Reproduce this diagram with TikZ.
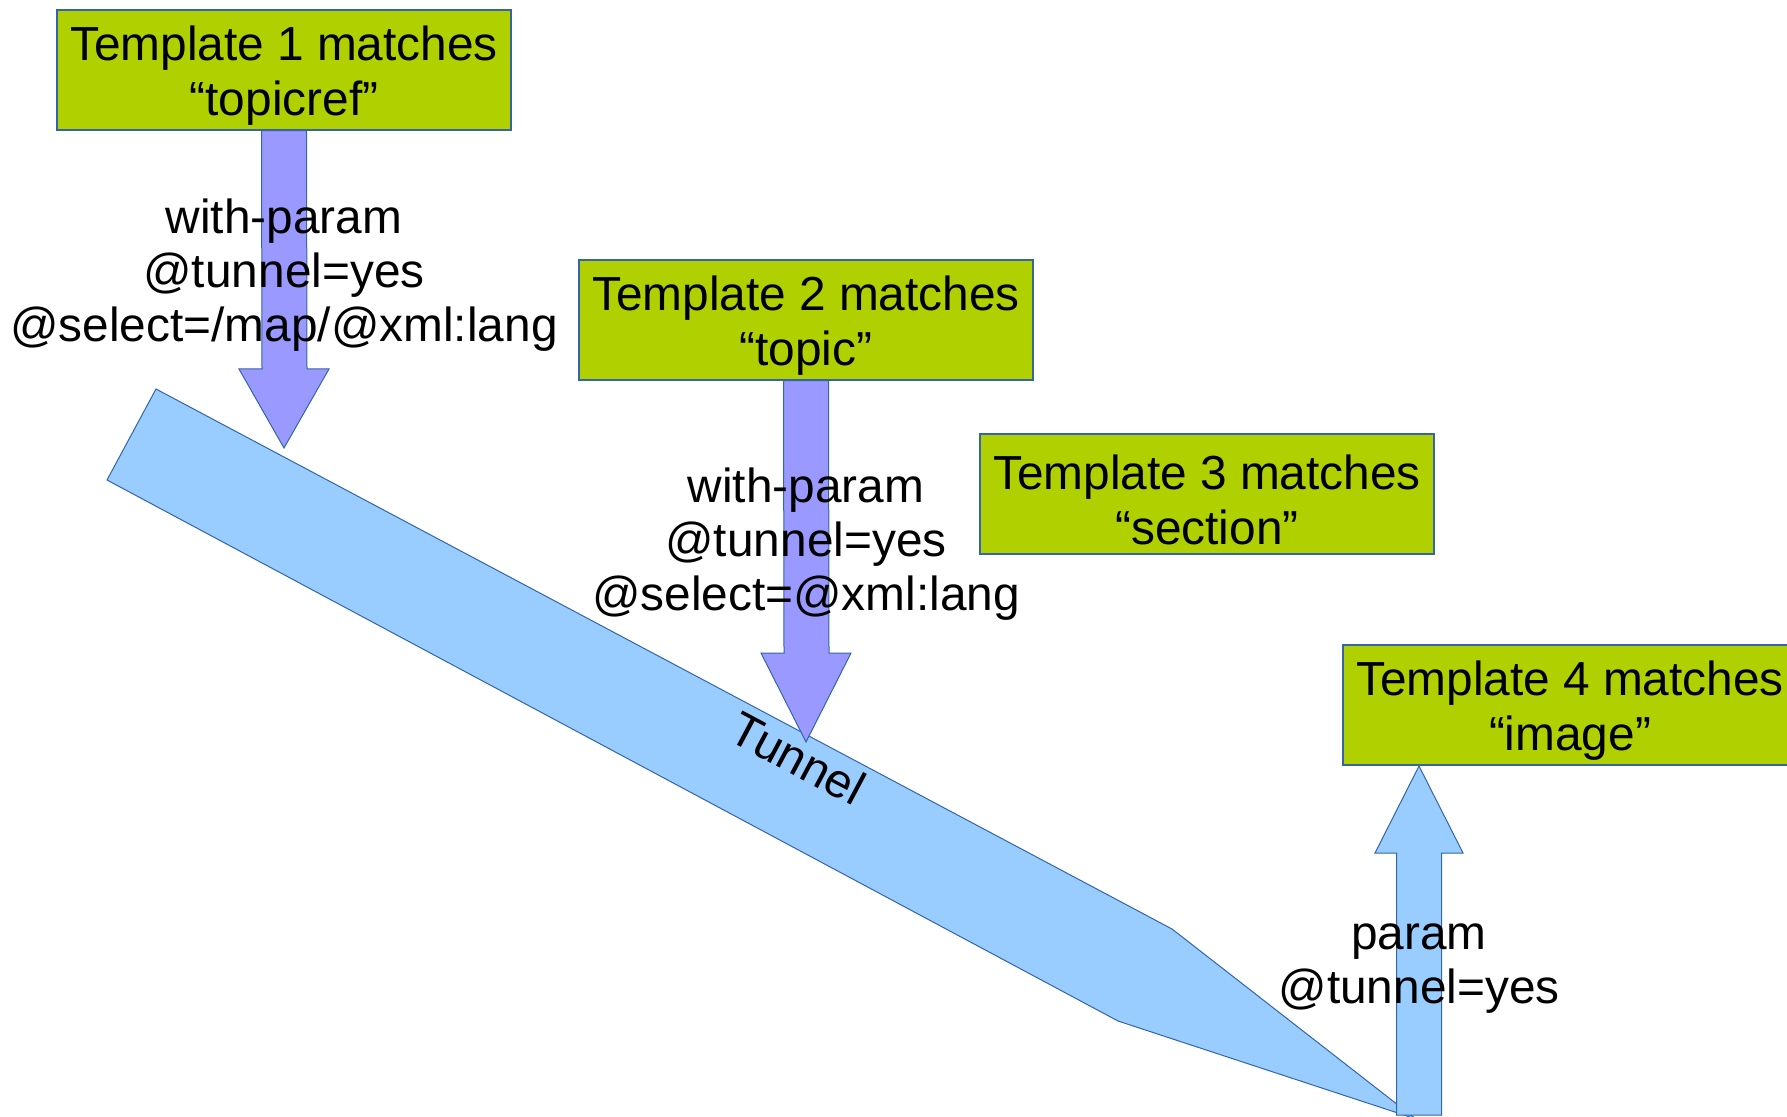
\documentclass[tikz,border=0pt]{standalone}
\usepackage{fontspec}
\setmainfont{Liberation Sans}
\usetikzlibrary{calc}
\definecolor{boxgreen}{HTML}{B0D000}
\definecolor{edgeblue}{HTML}{3465A4}
\definecolor{arrowpurple}{HTML}{9999FF}
\definecolor{tunnelblue}{HTML}{99CCFF}
\newcommand{\tstrut}{\rule{0pt}{23.4pt}}
\tikzset{
  tbox/.style={draw=edgeblue, line width=0.6pt, fill=boxgreen, minimum width=227pt, minimum height=60pt,
    inner sep=0pt, align=center, font=\fontsize{23.9}{27.5}\selectfont},
  lbl/.style={align=center, inner sep=0pt, font=\fontsize{23.9}{27}\selectfont},
  blockarrow/.style={draw=edgeblue, line width=0.5pt, fill=arrowpurple},
  blockarrowup/.style={draw=edgeblue, line width=0.5pt, fill=tunnelblue},
}
\begin{document}
\begin{tikzpicture}[x=0.5pt,y=-0.5pt]
\useasboundingbox (0,0) rectangle (1787,1117);
\clip (0,0) rectangle (1787,1117);
% tunnel
\coordinate (tA) at (156,389);
\coordinate (tB) at (1172,929);
\coordinate (tC) at (1416,1119);
\coordinate (tD) at (1118,1021);
\coordinate (tE) at (107,480);
\draw[draw=edgeblue, line width=0.5pt, fill=tunnelblue] (tA) -- (tB) -- (tC) -- (tD) -- (tE) -- cycle;
\node[rotate=-28, lbl] (tunnel) at (798,758) {Tunnel};
% boxes
\node[tbox] (b1) at (284,70) {\tstrut Template 1 matches\\“topicref”};
\node[tbox] (b2) at (806,320) {\tstrut Template 2 matches\\“topic”};
\node[tbox] (b3) at (1207,494) {\tstrut Template 3 matches\\“section”};
\node[tbox] (b4) at (1570,705) {\tstrut Template 4 matches\\“image”};
% arrow 1
\coordinate (a1tip) at (284,448);
\draw[blockarrow] ($(b1.south)+(-22.5,0)$) -- ($(b1.south)+(22.5,0)$) -- (307,369) -- (329,369)
  -- (a1tip) -- (239,369) -- (262,369) -- cycle;
% arrow 2
\coordinate (a2tip) at (806,742);
\draw[blockarrow] ($(b2.south)+(-22.5,0)$) -- ($(b2.south)+(22.5,0)$) -- (829,653) -- (851,653)
  -- (a2tip) -- (761,653) -- (784,653) -- cycle;
% arrow 3 (up)
\coordinate (a3base) at (1419,1115);
\draw[blockarrowup] ($(a3base)+(-22.5,0)$) -- ($(a3base)+(22.5,0)$) -- (1441.5,853) -- (1463,853)
  -- (1419,766) -- (1375,853) -- (1396.5,853) -- cycle;
% labels
\node[lbl] (l1) at (284,275) {with-param\\@tunnel=yes\\@select=/map/@xml:lang};
\node[lbl] (l2) at (806,544) {with-param\\@tunnel=yes\\@select=@xml:lang};
\node[lbl] (l3) at (1419,969) {param\\@tunnel=yes};
\end{tikzpicture}
\end{document}
